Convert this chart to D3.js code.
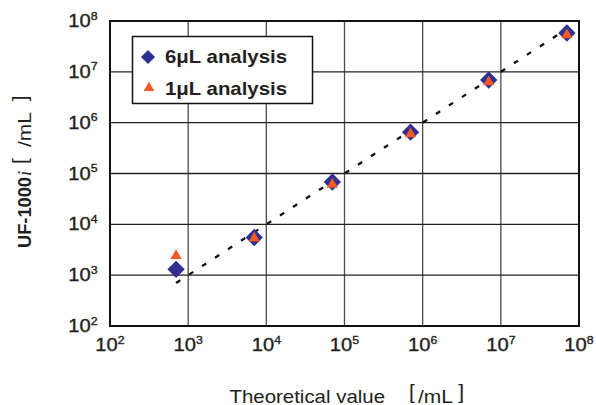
<!DOCTYPE html>
<html>
<head>
<meta charset="utf-8">
<script src="https://cdn.jsdelivr.net/npm/d3@7"></script>
<style>
  body { margin: 0; background: #fff; }
  text { font-family: "Liberation Sans", Arial, Helvetica, sans-serif; fill: #231f20; }
</style>
</head>
<body>
<div id="chart"></div>
<script>
// values
const theoretical = [7e2, 7e3, 7e4, 7e5, 7e6, 7e7];
const analysis6 = [1300, 5500, 68000, 650000, 6.9e6, 5.8e7];
const analysis1 = [2400, 5300, 61000, 600000, 6.3e6, 5.3e7];
const tickExps = [2, 3, 4, 5, 6, 7, 8];
const seriesNames = ["6\u03bcL analysis", "1\u03bcL analysis"];

const width = 596, height = 405;
const plotLeft = 110, plotRight = 579, plotTop = 21, plotBottom = 326;

const svg = d3.select("#chart")
  .append("svg")
  .attr("width", width)
  .attr("height", height);

const x = d3.scaleLog().domain([1e2, 1e8]).range([plotLeft, plotRight]);
const y = d3.scaleLog().domain([1e2, 1e8]).range([plotBottom, plotTop]);
const ticks = tickExps.map(e => Math.pow(10, e));

// grid
svg.append("g")
  .selectAll("line")
  .data(ticks.slice(1, -1))
  .enter().append("line")
    .attr("x1", d => x(d)).attr("x2", d => x(d))
    .attr("y1", plotTop).attr("y2", plotBottom)
    .attr("stroke", "#4d4d4d").attr("stroke-width", 1.3);

svg.append("g")
  .selectAll("line")
  .data(ticks.slice(1, -1))
  .enter().append("line")
    .attr("y1", d => y(d)).attr("y2", d => y(d))
    .attr("x1", plotLeft).attr("x2", plotRight)
    .attr("stroke", "#222").attr("stroke-width", 1.3);

svg.append("rect")
  .attr("x", plotLeft).attr("y", plotTop)
  .attr("width", plotRight - plotLeft).attr("height", plotBottom - plotTop)
  .attr("fill", "none").attr("stroke", "#111").attr("stroke-width", 2);

// tick labels (10 with a superscript exponent)
function powerLabel(t, e) {
  t.attr("font-size", 18)
    .attr("stroke", "#231f20").attr("stroke-width", 0.35);
  t.append("tspan").text("10");
  t.append("tspan").text(e)
    .attr("font-size", 11).attr("dy", -7.5);
}

svg.append("g")
  .selectAll("g")
  .data(tickExps)
  .enter().append("g")
    .attr("transform", d => `translate(${x(Math.pow(10, d))},351) scale(1.12,1)`)
    .each(function(d) {
      const t = d3.select(this).append("text").attr("text-anchor", "middle");
      powerLabel(t, d);
    });

svg.append("g")
  .selectAll("g")
  .data(tickExps)
  .enter().append("g")
    .attr("transform", d => `translate(97.5,${y(Math.pow(10, d)) + 6}) scale(1.12,1)`)
    .each(function(d) {
      const t = d3.select(this).append("text").attr("text-anchor", "end");
      powerLabel(t, d);
    });

// identity line
const line = d3.line().x(d => x(d)).y(d => y(d));
svg.append("path")
  .attr("d", line([theoretical[0], theoretical[theoretical.length - 1]]))
  .attr("stroke", "#111").attr("stroke-width", 2.3)
  .attr("stroke-dasharray", "5,10.5").attr("fill", "none");

// markers
const diamond = d3.symbol().type(d3.symbolSquare).size(150);
const triangle = d3.symbol().type(d3.symbolTriangle).size(55);

svg.append("g")
  .selectAll("path")
  .data(theoretical)
  .enter().append("path")
    .attr("d", diamond)
    .attr("transform", (d, i) => `translate(${x(d)},${y(analysis6[i])}) rotate(45)`)
    .attr("fill", "#2e3192");

svg.append("g")
  .selectAll("path")
  .data(theoretical)
  .enter().append("path")
    .attr("d", triangle)
    .attr("transform", (d, i) => `translate(${x(d)},${y(analysis1[i])})`)
    .attr("fill", "#f15a24");

// legend
const legend = svg.append("g");
legend.append("rect")
  .attr("x", 132.5).attr("y", 36.5).attr("width", 180).attr("height", 67)
  .attr("fill", "#fff").attr("stroke", "#111").attr("stroke-width", 1.5);
legend.append("path")
  .attr("d", d3.symbol().type(d3.symbolSquare).size(100))
  .attr("transform", "translate(148,57) rotate(45)")
  .attr("fill", "#2e3192");
legend.append("path")
  .attr("d", d3.symbol().type(d3.symbolTriangle).size(50))
  .attr("transform", "translate(149,88)")
  .attr("fill", "#f15a24");
legend.selectAll("text")
  .data(seriesNames)
  .enter().append("text")
    .attr("x", 165).attr("y", (d, i) => 63 + i * 32)
    .attr("font-size", 18.5).attr("font-weight", "bold")
    .attr("textLength", 122).attr("lengthAdjust", "spacingAndGlyphs")
    .text(d => d);

// x axis title
svg.append("text")
  .attr("x", 229.5).attr("y", 402.5)
  .attr("font-size", 18.5)
  .attr("textLength", 155.5).attr("lengthAdjust", "spacingAndGlyphs")
  .text("Theoretical value");
svg.append("text").attr("x", 409).attr("y", 398.5).attr("font-size", 21).text("[");
svg.append("text").attr("x", 418).attr("y", 402.5).attr("font-size", 18.5)
  .attr("textLength", 35).attr("lengthAdjust", "spacingAndGlyphs").text("/mL");
svg.append("text").attr("x", 464).attr("y", 398.5).attr("font-size", 21)
  .attr("text-anchor", "end").text("]");

// y axis title, drawn along a rotated baseline
const yt = svg.append("g").attr("transform", "translate(30.5,248) rotate(-90)");
yt.append("text").attr("x", 0).attr("y", 0)
  .attr("font-size", 18.5).attr("font-weight", "bold")
  .attr("textLength", 71).attr("lengthAdjust", "spacingAndGlyphs")
  .text("UF-1000");
yt.append("text").attr("x", 72).attr("y", 0)
  .attr("font-size", 19).attr("font-style", "italic")
  .style("font-family", "'Liberation Serif', serif").text("i");
yt.append("text").attr("x", 84).attr("y", -4).attr("font-size", 21).text("[");
yt.append("text").attr("x", 101).attr("y", 0).attr("font-size", 18.5)
  .attr("textLength", 35).attr("lengthAdjust", "spacingAndGlyphs").text("/mL");
yt.append("text").attr("x", 152.5).attr("y", -4).attr("font-size", 21)
  .attr("text-anchor", "end").text("]");
</script>
</body>
</html>
